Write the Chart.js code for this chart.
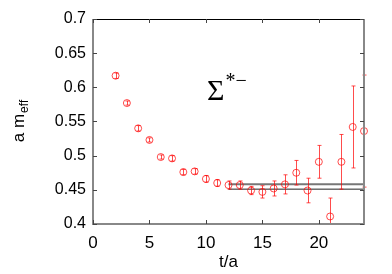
<!DOCTYPE html>
<html>
<head>
<meta charset="utf-8">
<script src="https://cdn.jsdelivr.net/npm/chart.js@4"></script>
<style>
  html, body { margin: 0; padding: 0; background: #fff; }
  #wrap { width: 392px; height: 274px; }
</style>
</head>
<body>
<div id="wrap"><canvas id="out"></canvas></div>
<script>
// effective mass per time slice
const tSlices = [2, 3, 4, 5, 6, 7, 8, 9, 10, 11, 12, 13, 14, 15, 16, 17, 18, 19, 20, 21, 22, 23, 24];
const meff = [0.617, 0.577, 0.540, 0.523, 0.498, 0.496, 0.476, 0.477, 0.466, 0.460, 0.457, 0.457,
  0.449, 0.447, 0.452, 0.458, 0.475, 0.449, 0.491, 0.411, 0.491, 0.542, 0.536];
const meffErr = [0.004, 0.003, 0.004, 0.003, 0.003, 0.004, 0.004, 0.004, 0.005, 0.005, 0.006, 0.006,
  0.006, 0.009, 0.011, 0.014, 0.018, 0.018, 0.024, 0.027, 0.040, 0.060, 0.082];

// fit band over the plateau
const fitRange = [12, 24];
const fitUpper = 0.458;
const fitLower = 0.451;

const xTicks = [0, 5, 10, 15, 20];
const yTicks = [0.4, 0.45, 0.5, 0.55, 0.6, 0.65, 0.7];

const red = "rgba(255, 0, 0, 0.7)";

const errorBars = {
  id: "errorBars",
  afterDatasetsDraw(chart) {
    const ctx = chart.ctx;
    const xs = chart.scales.x, ys = chart.scales.y;
    const area = chart.chartArea;
    ctx.save();
    ctx.strokeStyle = red;
    ctx.lineWidth = 1;
    for (let i = 0; i < tSlices.length; i++) {
      const px = Math.round(xs.getPixelForValue(tSlices[i])) + 0.5;
      let top = ys.getPixelForValue(meff[i] + meffErr[i]);
      let bot = ys.getPixelForValue(meff[i] - meffErr[i]);
      const topIn = top >= area.top, botIn = bot <= area.bottom;
      top = Math.max(top, area.top);
      bot = Math.min(bot, area.bottom);
      ctx.beginPath();
      ctx.moveTo(px, top);
      ctx.lineTo(px, bot);
      if (topIn) { ctx.moveTo(px - 2, top); ctx.lineTo(px + 2, top); }
      if (botIn) { ctx.moveTo(px - 2, bot); ctx.lineTo(px + 2, bot); }
      ctx.stroke();
    }
    ctx.restore();
  }
};

const frame = {
  id: "frame",
  afterDraw(chart) {
    const ctx = chart.ctx;
    const a = chart.chartArea;
    const xs = chart.scales.x, ys = chart.scales.y;
    ctx.save();
    // top border
    ctx.strokeStyle = "#000";
    ctx.lineWidth = 1;
    ctx.beginPath();
    ctx.moveTo(a.left, a.top + 0.5);
    ctx.lineTo(a.right, a.top + 0.5);
    ctx.stroke();
    // left, bottom, right borders
    ctx.strokeStyle = "#888";
    ctx.lineWidth = 2;
    ctx.beginPath();
    ctx.moveTo(a.left, a.top);
    ctx.lineTo(a.left, a.bottom);
    ctx.lineTo(a.right, a.bottom);
    ctx.lineTo(a.right, a.top);
    ctx.stroke();
    // inward ticks
    ctx.lineWidth = 1;
    ctx.strokeStyle = "#444";
    ctx.beginPath();
    xTicks.forEach(v => {
      const px = Math.round(xs.getPixelForValue(v)) + 0.5;
      ctx.moveTo(px, a.top); ctx.lineTo(px, a.top + 4);
      ctx.moveTo(px, a.bottom); ctx.lineTo(px, a.bottom - 4);
    });
    yTicks.forEach(v => {
      const py = Math.round(ys.getPixelForValue(v)) + 0.5;
      ctx.moveTo(a.left, py); ctx.lineTo(a.left + 4, py);
      ctx.moveTo(a.right, py); ctx.lineTo(a.right - 4, py);
    });
    ctx.stroke();

    // y axis title with subscript
    ctx.fillStyle = "#000";
    ctx.translate(24, (a.top + a.bottom) / 2);
    ctx.rotate(-Math.PI / 2);
    ctx.font = "17px 'Liberation Sans', Arial, sans-serif";
    const main = "a m";
    ctx.font = "17px 'Liberation Sans', Arial, sans-serif";
    const w1 = ctx.measureText(main).width;
    ctx.font = "12px 'Liberation Sans', Arial, sans-serif";
    const w2 = ctx.measureText("eff").width;
    const x0 = -(w1 + w2) / 2;
    ctx.textBaseline = "alphabetic";
    ctx.font = "17px 'Liberation Sans', Arial, sans-serif";
    ctx.fillText(main, x0, 0);
    ctx.font = "12px 'Liberation Sans', Arial, sans-serif";
    ctx.fillText("eff", x0 + w1 + 1, 4);
    ctx.restore();

    // particle label
    ctx.save();
    const lx = xs.getPixelForValue(10.1);
    const ly = ys.getPixelForValue(0.582);
    ctx.fillStyle = "#000";
    ctx.textBaseline = "alphabetic";
    ctx.font = "30px 'Liberation Serif', 'Times New Roman', serif";
    ctx.fillText("Σ", lx, ly);
    const ws = ctx.measureText("Σ").width;
    ctx.font = "20px 'Liberation Serif', 'Times New Roman', serif";
    ctx.fillText("*−", lx + ws + 1, ly - 13);
    ctx.restore();
  }
};

const points = tSlices.map((t, i) => ({ x: t, y: meff[i] }));

new Chart(document.getElementById("out").getContext("2d"), {
  type: "scatter",
  data: {
    datasets: [
      {
        data: points,
        pointStyle: "circle",
        pointRadius: 3.5,
        pointBorderWidth: 1,
        pointBorderColor: red,
        pointBackgroundColor: "rgba(0,0,0,0)",
        showLine: false,
        clip: false
      },
      {
        data: fitRange.map(x => ({ x, y: fitUpper })),
        showLine: true,
        borderColor: "#777",
        borderWidth: 2,
        pointRadius: 0
      },
      {
        data: fitRange.map(x => ({ x, y: fitLower })),
        showLine: true,
        borderColor: "#222",
        borderWidth: 1,
        pointRadius: 0
      }
    ]
  },
  options: {
    responsive: true,
    maintainAspectRatio: false,
    animation: false,
    events: [],
    layout: { padding: { top: 19, right: 28, left: 0, bottom: 0 } },
    plugins: {
      legend: { display: false },
      tooltip: { enabled: false }
    },
    scales: {
      x: {
        type: "linear",
        min: 0,
        max: 24,
        grid: { display: false, drawTicks: false },
        border: { display: false },
        ticks: {
          stepSize: 5,
          includeBounds: false,
          padding: 9,
          color: "#000",
          font: { family: "'Liberation Sans', Arial, sans-serif", size: 17 },
          maxRotation: 0
        },
        title: {
          display: true,
          text: "t/a",
          color: "#000",
          font: { family: "'Liberation Sans', Arial, sans-serif", size: 17 },
          padding: { top: 0, bottom: 1 }
        },
        afterFit(scale) { scale.height = 50; }
      },
      y: {
        type: "linear",
        min: 0.4,
        max: 0.7,
        grid: { display: false, drawTicks: false },
        border: { display: false },
        ticks: {
          stepSize: 0.05,
          includeBounds: false,
          padding: 7,
          color: "#000",
          font: { family: "'Liberation Sans', Arial, sans-serif", size: 16 },
          callback: v => String(+v.toFixed(2))
        },
        afterFit(scale) { scale.width = 93; }
      }
    }
  },
  plugins: [errorBars, frame]
});
</script>
</body>
</html>
